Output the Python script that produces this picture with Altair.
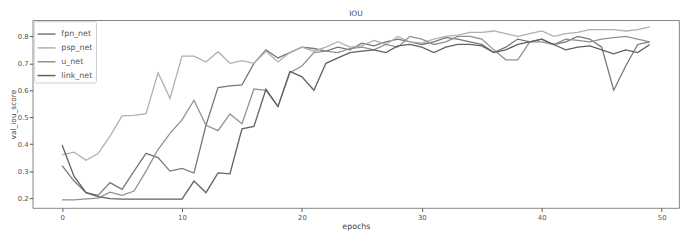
import altair as alt
import pandas as pd

epochs = list(range(50))

fpn_net = [0.32, 0.263, 0.22, 0.21, 0.257, 0.232, 0.30, 0.366, 0.35, 0.30,
           0.31, 0.293, 0.47, 0.61, 0.616, 0.62, 0.70, 0.75, 0.72, 0.74,
           0.76, 0.755, 0.745, 0.76, 0.75, 0.775, 0.765, 0.78, 0.79, 0.78,
           0.77, 0.78, 0.795, 0.79, 0.78, 0.77, 0.74, 0.76, 0.79, 0.78,
           0.79, 0.77, 0.78, 0.80, 0.79, 0.76, 0.60, 0.69, 0.77, 0.78]

psp_net = [0.36, 0.37, 0.34, 0.365, 0.43, 0.505, 0.507, 0.513, 0.665, 0.57,
           0.727, 0.727, 0.705, 0.743, 0.70, 0.71, 0.70, 0.745, 0.705, 0.74,
           0.76, 0.745, 0.76, 0.78, 0.76, 0.765, 0.785, 0.77, 0.80, 0.78,
           0.775, 0.79, 0.80, 0.805, 0.815, 0.815, 0.82, 0.81, 0.80, 0.81,
           0.82, 0.80, 0.81, 0.815, 0.825, 0.825, 0.825, 0.82, 0.825, 0.835]

u_net = [0.193, 0.193, 0.197, 0.20, 0.222, 0.21, 0.226, 0.30, 0.38, 0.44,
         0.49, 0.563, 0.47, 0.45, 0.512, 0.476, 0.605, 0.60, 0.54, 0.665,
         0.69, 0.74, 0.745, 0.74, 0.755, 0.76, 0.75, 0.77, 0.76, 0.80,
         0.79, 0.77, 0.78, 0.80, 0.80, 0.79, 0.75, 0.713, 0.713, 0.78,
         0.78, 0.77, 0.79, 0.785, 0.78, 0.79, 0.795, 0.80, 0.79, 0.78]

link_net = [0.397, 0.28, 0.22, 0.205, 0.198, 0.196, 0.196, 0.196, 0.196, 0.196,
            0.196, 0.263, 0.22, 0.293, 0.29, 0.457, 0.466, 0.604, 0.539, 0.67,
            0.65, 0.60, 0.70, 0.72, 0.74, 0.745, 0.75, 0.74, 0.765, 0.77,
            0.76, 0.74, 0.76, 0.77, 0.77, 0.765, 0.74, 0.75, 0.77, 0.78,
            0.79, 0.77, 0.75, 0.76, 0.765, 0.75, 0.735, 0.75, 0.74, 0.77]

series_names = ["fpn_net", "psp_net", "u_net", "link_net"]
series_colors = ["#777777", "#b0b0b0", "#909090", "#606060"]
x_ticks = [0, 10, 20, 30, 40, 50]
y_ticks = [0.2, 0.3, 0.4, 0.5, 0.6, 0.7, 0.8]

rows = []
for name, vals in zip(series_names, [fpn_net, psp_net, u_net, link_net]):
    for e, v in zip(epochs, vals):
        rows.append({"epoch": e, "score": v, "model": name})
df = pd.DataFrame(rows)

FONT = "DejaVu Sans"

chart = alt.Chart(df).mark_line(strokeWidth=1.3).encode(
    x=alt.X("epoch:Q",
            scale=alt.Scale(domain=[-2.45, 51.45], nice=False, zero=False),
            axis=alt.Axis(values=x_ticks, title="epochs", grid=False, domain=False,
                          tickSize=3.5, tickColor="#555", labelColor="#555",
                          labelFontSize=7, labelPadding=2, titleFontSize=8,
                          titleFontWeight="normal", titleColor="#444",
                          titlePadding=2, format="d")),
    y=alt.Y("score:Q",
            scale=alt.Scale(domain=[0.163, 0.86], nice=False, zero=False),
            axis=alt.Axis(values=y_ticks, title="val_iou_score", grid=False, domain=False,
                          tickSize=3.5, tickColor="#555", labelColor="#555",
                          labelFontSize=7, labelPadding=1, titleFontSize=7.5,
                          titleFontWeight="normal", titleColor="#444",
                          titlePadding=0, format=".1f")),
    color=alt.Color("model:N",
                    scale=alt.Scale(domain=series_names, range=series_colors),
                    legend=alt.Legend(title=None, orient="top-left", offset=1,
                                      symbolType="stroke", symbolSize=330,
                                      symbolStrokeWidth=1.5, labelFontSize=8,
                                      labelColor="#555", rowPadding=-3,
                                      labelOffset=5,
                                      fillColor="white", strokeColor="#ccc",
                                      cornerRadius=2, padding=3)),
    order=alt.Order("epoch:Q"),
).properties(
    width=654, height=190,
    title=alt.TitleParams("IOU", fontSize=7.5, fontWeight="normal", color="#444",
                          font=FONT, offset=3),
    autosize=alt.AutoSizeParams(type="none"),
    padding={"left": 25, "top": 11, "right": 6, "bottom": 30},
).configure(font=FONT).configure_view(stroke="#666", strokeWidth=0.8)

chart.save("out.html", embed_options={"renderer": "svg", "actions": False})
